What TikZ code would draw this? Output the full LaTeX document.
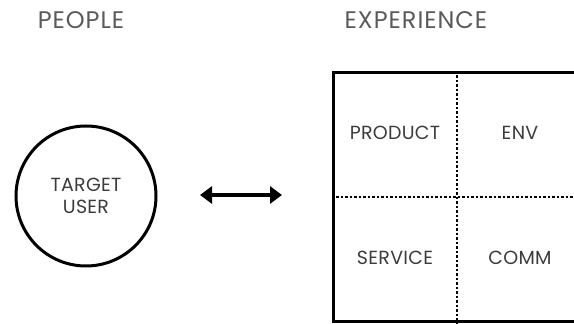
\documentclass[tikz,border=0pt]{standalone}
\usepackage{fontspec}
\setmainfont{Poppins}
\usetikzlibrary{arrows.meta,positioning}
\definecolor{labelgray}{HTML}{3C3C3C}
\definecolor{headgray}{HTML}{5A5A5A}

\begin{document}
\begin{tikzpicture}[x=1pt,y=1pt,
    every node/.style={font=\addfontfeatures{LetterSpace=1.5}\fontsize{19}{22}\selectfont,text=labelgray,align=center},
    heading/.style={font=\addfontfeatures{LetterSpace=4}\fontsize{24}{26}\selectfont,text=headgray},
    divider/.style={line width=2.8pt,dash pattern=on 2.6pt off 1.9pt}]
  \useasboundingbox (0,0) rectangle (574,324);
  % column headings
  \node[heading] (people) at (81,304) {PEOPLE};
  \node[heading] (experience) at (416,304) {EXPERIENCE};
  % target user
  \node[draw=black,line width=3pt,circle,minimum size=140pt] (user) at (86,128) {TARGET\\USER};
  % the experience grid
  \node[draw=black,line width=3.6pt,minimum width=247pt,minimum height=249pt,inner sep=0pt] (grid) at (457,127) {};
  \draw[divider] (grid.north) -- (grid.south);
  \draw[divider] (grid.west) -- (grid.east);
  \foreach \x/\y/\lab/\nm in {395/191/PRODUCT/prod,520/191/ENV/env,395/66/SERVICE/serv,520/66/COMM/comm}
    \node (\nm) at (\x,\y) {\lab};
  % two-way link
  \coordinate (linkL) at (200,129);
  \coordinate (linkR) at (282,129);
  \draw[line width=4.5pt,{Triangle[length=12pt,width=17pt]}-{Triangle[length=12pt,width=17pt]}] (linkL) -- (linkR);
\end{tikzpicture}
\end{document}
